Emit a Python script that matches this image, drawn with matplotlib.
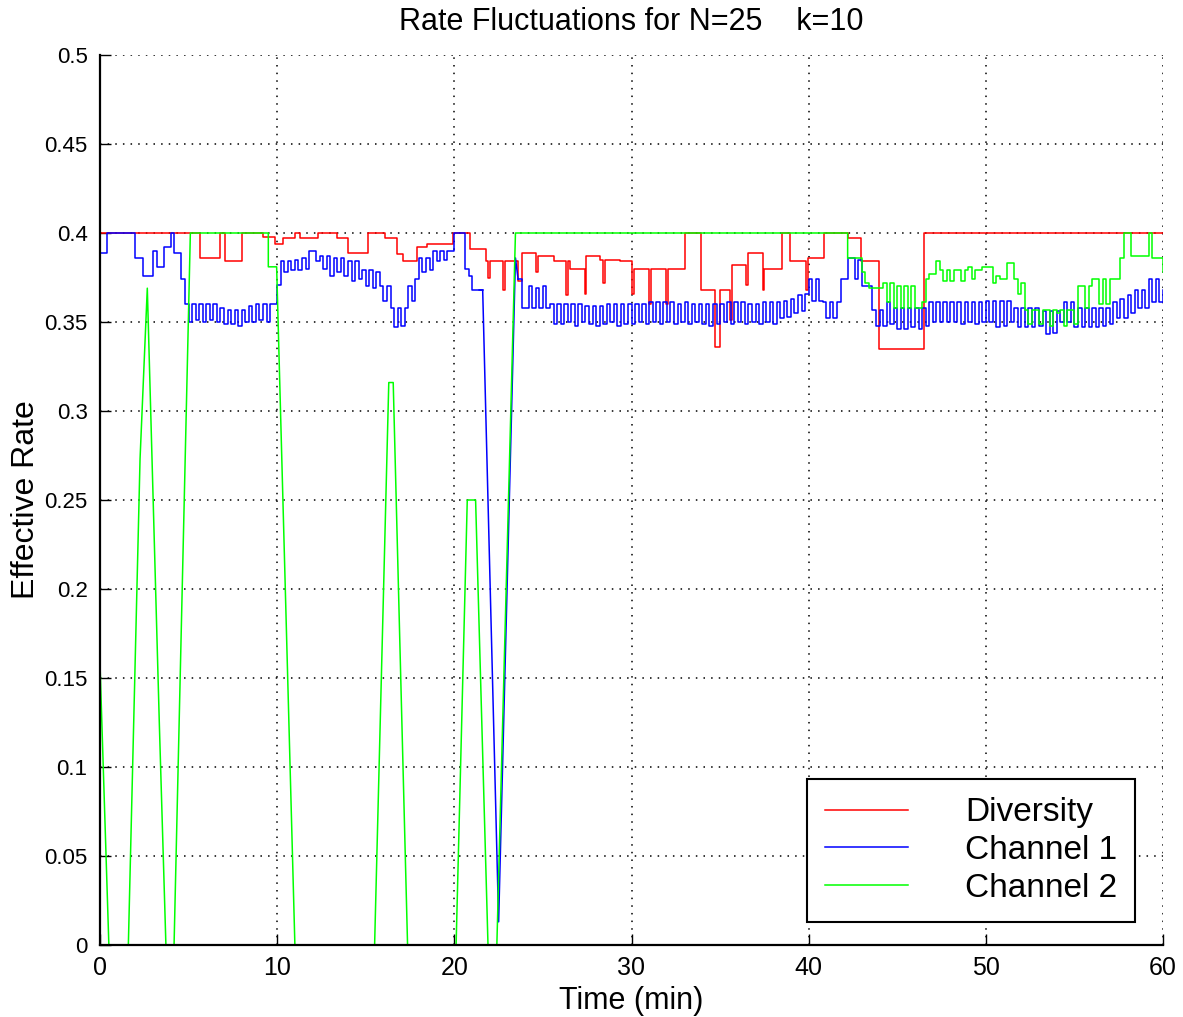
import numpy as np
import matplotlib
matplotlib.use('Agg')
import matplotlib.pyplot as plt

plt.rcParams['font.family'] = ['Liberation Sans', 'DejaVu Sans']

#DIVERSITY (red): step levels, each one held from its time to the next
red_t = [0, 5.64, 6.77, 7.05, 8.0, 9.22, 9.88, 10.35, 11.0, 11.29,
         12.32, 13.36, 14.0, 15.1, 16.09, 16.74, 17.12, 17.87, 18.44, 19.94,
         20.88, 21.8, 21.9, 22.0, 22.75, 22.85, 23.6, 23.8, 24.6, 24.7,
         25.6, 26.3, 26.4, 26.53, 27.35, 27.45, 28.22, 28.4, 28.5, 29.35,
         30.05, 30.15, 31.0, 31.1, 31.95, 32.05, 33.0, 33.9, 34.7, 35.0,
         35.55, 35.65, 36.45, 36.55, 37.4, 37.5, 38.47, 38.94, 39.85, 39.95,
         40.85, 42.23, 42.98, 43.95, 46.5, 60]
red_v = [.400, .386, .400, .384, .400, .398, .394, .397, .400, .397,
         .400, .397, .389, .400, .397, .388, .384, .392, .394, .400,
         .391, .384, .375, .384, .368, .384, .373, .389, .378, .387,
         .384, .365, .384, .380, .366, .387, .385, .372, .385, .384,
         .366, .380, .360, .380, .360, .380, .400, .368, .336, .368,
         .351, .382, .371, .389, .368, .380, .400, .384, .368, .386,
         .400, .397, .384, .335, .400, .400]

#CHANNEL 1 (blue): one sample every 0.2 min from 0 to 60, nan = dropout part
blue_dt = 0.2
nan = np.nan
blue_v = [
    .389, .389, .400, .400, .400, .400, .400, .400, .400, .400,   # 0
    .386, .386, .376, .376, .376, .390, .381, .381, .392, .392,   # 2
    .400, .389, .389, .374, .360, .350, .360, .351, .360, .350,   # 4
    .360, .351, .360, .350, .358, .349, .357, .349, .357, .348,   # 6
    .357, .350, .359, .350, .360, .351, .360, .350, .360, .360,   # 8
    .371, .384, .378, .384, .379, .385, .379, .386, .380, .390,   # 10
    .390, .384, .387, .380, .387, .376, .386, .378, .386, .376,   # 12
    .384, .373, .384, .374, .379, .370, .379, .369, .378, .370,   # 14
    .362, .370, .358, .347, .358, .348, .358, .370, .362, .374,   # 16
    .386, .378, .386, .379, .390, .384, .390, .385, .390, .390,   # 18
    .400, .400, .400, .380, .376, .368, .368, .368, nan, nan,     # 20
    nan, nan, nan, nan, nan, nan, nan, nan, .374, .358,           # 22
    .358, .370, .358, .369, .358, .370, .358, .360, .349, .360,   # 24
    .349, .360, .350, .360, .348, .360, .350, .359, .349, .359,   # 26
    .348, .359, .349, .360, .350, .360, .348, .360, .349, .360,   # 28
    .349, .360, .350, .360, .349, .361, .350, .361, .349, .361,   # 30
    .350, .361, .349, .360, .350, .361, .349, .360, .350, .360,   # 32
    .349, .360, .348, .360, .349, .360, .350, .361, .349, .361,   # 34
    .350, .361, .349, .360, .350, .360, .349, .361, .350, .361,   # 36
    .349, .361, .352, .362, .353, .363, .355, .365, .356, .366,   # 38
    .374, .362, .374, .362, .361, .352, .361, .352, .361, .374,   # 40
    .374, .386, .386, .374, .385, .370, .370, .370, .357, .348,   # 42
    .357, .348, .361, .349, .358, .346, .358, .346, .358, .347,   # 44
    .358, .346, .358, .348, .361, .350, .361, .350, .361, .350,   # 46
    .361, .350, .361, .349, .361, .350, .361, .349, .361, .350,   # 48
    .362, .350, .362, .347, .362, .348, .362, .350, .358, .347,   # 50
    .358, .347, .358, .347, .358, .348, .356, .343, .356, .344,   # 52
    .356, .350, .361, .350, .361, .347, .358, .347, .358, .347,   # 54
    .358, .347, .358, .348, .358, .349, .361, .352, .363, .352,   # 56
    .365, .355, .368, .358, .368, .358, .374, .361, .374, .361,   # 58
    .368]
# the big drop of channel 1 around 22 min (straight segments)
blue_drop_t = [21.4, 21.6, 22.5, 23.45, 23.6]
blue_drop_v = [.368, .368, .013, .386, .374]

#CHANNEL 2 (green): straight segments up to 42.2 min ...
green_t = [0, 0.5, 1.6, 2.26, 2.67, 3.35, 3.72, 4.18, 5.1, 9.5,
           9.5, 9.97, 11.0, 15.5, 16.3, 16.55, 17.36, 20.1, 20.73, 21.2,
           21.9, 22.4, 23.45, 42.2, 42.2]
green_v = [.158, 0, 0, .273, .369, .124, 0, 0, .400, .400,
           .381, .381, 0, 0, .316, .316, 0, 0, .25, .25,
           0, 0, .400, .400, .386]
# ... then one sample every 0.2 min from 42.2 to 60
green_t0 = 42.2
green_dt = 0.2
green_step_v = [
    .386, .386, .386, .386, .378, .372, .369, .369, .369, .369,
    .372, .361, .372, .358, .370, .358, .370, .358, .370, .358,
    .358, .361, .374, .377, .377, .384, .379, .373, .379, .373,
    .379, .379, .373, .379, .381, .374, .379, .379, .381, .381,
    .381, .372, .376, .374, .374, .383, .383, .374, .366, .372,
    .357, .349, .357, .357, .349, .357, .357, .348, .357, .355,
    .357, .348, .357, .357, .349, .370, .370, .358, .370, .374,
    .374, .360, .374, .360, .374, .374, .374, .386, .400, .400,
    .387, .387, .387, .387, .387, .400, .386, .386, .386, .378]

blue_t = np.arange(len(blue_v)) * blue_dt
green_step_t = green_t0 + np.arange(len(green_step_v)) * green_dt

#PLOT
fig = plt.figure(figsize=(11.83, 10.17), dpi=100)
ax = fig.add_axes([100/1183, 1 - 945/1017, 1063/1183, 890/1017])

lw = 1.1
ax.plot(red_t, red_v, color='#ff0000', lw=lw, drawstyle='steps-post', label='Diversity')
ax.plot(blue_t, blue_v, color='#0000ff', lw=lw, drawstyle='steps-post', label='Channel 1')
ax.plot(blue_drop_t, blue_drop_v, color='#0000ff', lw=lw)
ax.plot(green_t, green_v, color='#00ff00', lw=lw, label='Channel 2')
ax.plot(green_step_t, green_step_v, color='#00ff00', lw=lw, drawstyle='steps-post')

ax.set_xlim(0, 60)
ax.set_ylim(0, 0.5)
ax.set_xticks(np.arange(0, 61, 10))
ax.set_yticks(np.arange(0, 0.501, 0.05))
ax.set_yticklabels(['0', '0.05', '0.1', '0.15', '0.2', '0.25', '0.3',
                    '0.35', '0.4', '0.45', '0.5'])
ax.grid(True, color='black', linestyle=(0, (1, 4)), linewidth=1.1)
ax.set_axisbelow(True)

for s in ['top', 'right']:
    ax.spines[s].set_visible(False)
for s in ['left', 'bottom']:
    ax.spines[s].set_linewidth(1.6)

ax.tick_params(axis='both', direction='in', length=8, width=1.0, colors='black')
ax.tick_params(axis='y', labelsize=16, pad=9)
ax.tick_params(axis='x', labelsize=18, pad=8)

ax.set_title('Rate Fluctuations for N=25    k=10', fontsize=22, pad=18)
ax.set_xlabel('Time (min)', fontsize=22, labelpad=4)
ax.set_ylabel('Effective Rate', fontsize=23, labelpad=2)

leg = ax.legend(loc='lower right', bbox_to_anchor=(0.974, 0.026), borderaxespad=0,
                fontsize=24, handlelength=2.5, handletextpad=1.7, borderpad=0.55,
                labelspacing=0.2, fancybox=False, framealpha=1, edgecolor='black')
leg.get_frame().set_linewidth(1.5)

fig.savefig('out.png', dpi=100)
